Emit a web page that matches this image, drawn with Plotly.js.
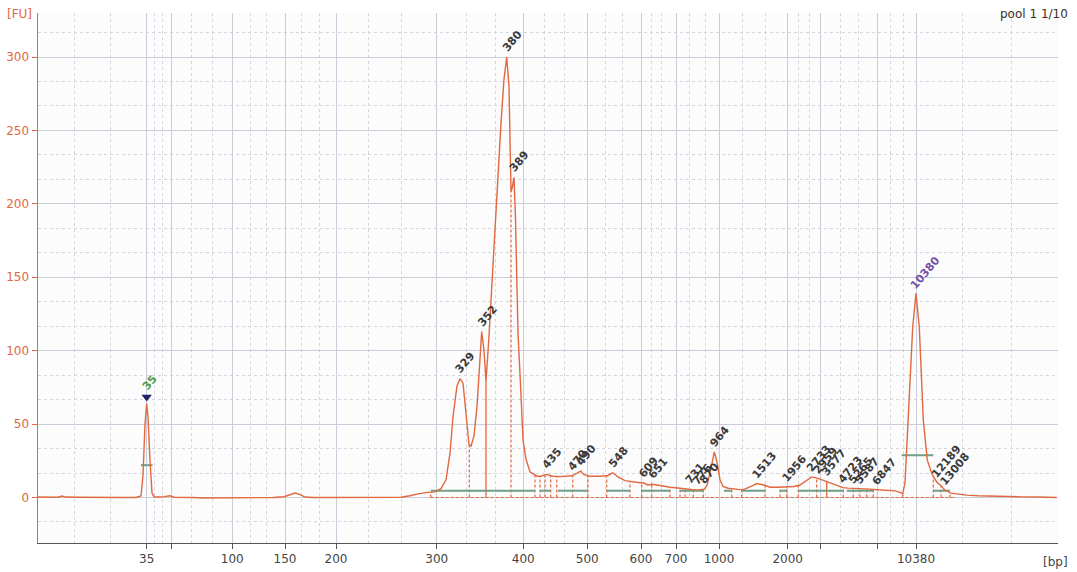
<!DOCTYPE html>
<html>
<head>
<meta charset="utf-8">
<script src="https://cdn.plot.ly/plotly-3.0.1.min.js"></script>
<style>html,body{margin:0;padding:0;background:#fff;}#chart{width:1077px;height:572px;}</style>
</head>
<body>
<div id="chart"></div>
<script>
// ---- Data (x = migration time, arbitrary units; y = fluorescence [FU]) ----
const migrationTime = [0, 1.0, 2.0, 2.4, 2.7, 4.0, 5.5, 7.0, 8.5, 9.8, 10.3, 10.5, 10.7, 10.87, 11.0, 11.2, 11.4, 11.6, 12.0, 12.6, 13.2, 13.6, 14.5, 15.5, 16.5, 18.0, 20.0, 22.0, 23.5, 24.6, 25.2, 25.7, 26.2, 26.7, 27.5, 29.0, 31.0, 33.0, 35.0, 36.3, 37.2, 38.0, 39.0, 39.7, 40.3, 40.8, 41.2, 41.5, 41.9, 42.2, 42.5, 42.8, 43.1, 43.3, 43.6, 43.9, 44.2, 44.37, 44.6, 44.8, 45.1, 45.5, 45.9, 46.3, 46.6, 46.87, 47.1, 47.3, 47.45, 47.6, 47.75, 47.9, 48.0, 48.3, 48.5, 48.8, 49.2, 49.9, 50.3, 50.87, 51.5, 52.2, 53.0, 53.4, 54.0, 54.27, 54.6, 55.2, 56.2, 57.0, 57.47, 58.0, 58.7, 59.5, 60.2, 60.5, 61.0, 61.47, 62.2, 63.2, 64.2, 65.2, 65.9, 66.6, 66.9, 67.3, 67.63, 67.9, 68.2, 68.5, 69.0, 70.0, 70.5, 71.3, 71.87, 72.6, 73.2, 74.0, 74.9, 75.6, 76.2, 76.8, 77.37, 78.0, 78.4, 78.87, 79.4, 80.0, 80.5, 81.0, 81.7, 82.5, 83.2, 83.9, 84.5, 85.2, 85.7, 86.2, 86.47, 86.7, 87.03, 87.47, 87.8, 88.13, 88.53, 88.93, 89.37, 89.87, 90.3, 90.7, 91.3, 92.0, 92.87, 94.0, 95.5, 97.0, 98.5, 100.0, 101.87];
const fluorescence = [0.3, 0.1, 0.2, 1.0, 0.3, 0.2, 0.0, 0.1, 0.0, 0.0, 1.0, 15, 50, 64, 55, 25, 3, 0.5, 0.3, 0.6, 1.2, 0.2, 0.3, 0.0, -0.3, -0.2, -0.5, -0.3, 0.0, 0.5, 1.8, 3.0, 2.0, 0.3, 0.0, 0.0, 0.1, 0.0, 0.1, 0.2, 1.2, 2.5, 3.5, 3.8, 6, 12, 30, 55, 76, 81, 78, 55, 36, 35, 42, 62, 100, 113, 100, 79, 110, 160, 210, 255, 285, 300, 280, 208, 212, 218, 190, 140, 112, 70, 39, 26, 17.5, 14.5, 14.5, 15.7, 14.5, 14.2, 14.5, 14.8, 17, 18, 15.5, 14.5, 14.5, 15, 16.8, 14, 11.5, 10.5, 10, 10, 8.5, 9, 8, 7, 6.3, 5.5, 5, 5.6, 8, 20, 31, 24, 12, 7.5, 6.3, 5.5, 5.2, 7.5, 9.5, 8.5, 7, 7, 7.4, 7.5, 8.5, 11.5, 14, 13, 12, 11.3, 10, 8, 6.7, 6.4, 6.3, 5.8, 5.7, 5.3, 5.0, 4.8, 4.5, 3.5, 2.7, 10, 52.7, 116, 139, 116, 52.7, 25.4, 16.3, 10.6, 8, 5, 3, 2.2, 1.6, 1.2, 0.8, 0.6, 0.4, 0.3, 0.0];

// Axis ticks: position (migration time) and size label in bp
const tickPositions = [10.87, 13.37, 19.43, 24.7, 29.8, 39.87, 48.53, 54.93, 60.3, 63.8, 68.1, 74.97, 78.2, 83.93, 87.8];
const tickLabels = ['35', '', '100', '150', '200', '300', '400', '500', '600', '700', '1000', '2000', '', '', '10380'];
const minorGridPositions = [3.6, 7.2, 11.6, 12.43, 15.37, 17.43, 21.2, 22.87, 26.37, 28.13, 33.03, 36.37, 42.8, 45.7, 50.6, 52.6, 56.7, 58.43, 61.37, 62.37, 65.13, 66.7, 70.47, 72.7, 76.03, 77.13, 80.2, 82.03, 85.2, 86.53, 92.47, 97.3];

// Called peaks: size label, migration time, height
const peakLabels = ['35', '329', '352', '380', '389', '435', '470', '490', '548', '609', '651', '731', '776', '870', '964', '1513', '1956', '2733', '2959', '3577', '4723', '5265', '5587', '6847', '10380', '12189', '13008'];
const peakTimes = [10.87, 42.2, 44.37, 46.87, 47.6, 50.87, 53.4, 54.27, 57.47, 60.5, 61.47, 65.2, 65.9, 66.6, 67.63, 71.87, 74.9, 77.37, 78.0, 78.87, 80.5, 81.5, 82.2, 83.9, 87.8, 89.87, 90.7];
const peakHeights = [64, 81, 113, 300, 218, 15.7, 14.8, 18, 16.8, 10, 9, 5.5, 5, 5.6, 31, 9.5, 7.4, 14, 13, 11.3, 6.7, 6.3, 5.8, 5.3, 139, 10.6, 5];
const ladderLabels = ['35', '10380'];

// Region boundaries (migration time) and solid (peak-split) boundaries
const regionBounds = [39.27, 43.13, 47.3, 49.7, 50.2, 50.7, 51.27, 51.87, 53.47, 55.0, 56.87, 59.2, 60.37, 61.37, 63.2, 64.2, 64.7, 65.53, 66.53, 69.37, 70.37, 72.7, 74.2, 74.87, 76.03, 77.87, 80.53, 81.53, 82.2, 82.87, 83.53, 86.47, 89.53, 90.3, 91.2];
const splitBounds = [44.8, 78.87];
const baselineSpan = [39.27, 91.8];
// Smear region bars: start, end, level (FU)
const smearStart = [39.27, 50.2, 52.0, 56.87, 60.37, 64.2, 68.6, 70.37, 74.2, 76.03, 80.87, 89.53];
const smearEnd =   [49.7, 51.27, 55.0, 59.2, 63.2, 66.53, 69.37, 72.7, 74.87, 80.53, 83.53, 91.2];
const smearLevel = 4.6;
// Peak width bars for ladder peaks
const ladderBarStart = [10.3, 86.37];
const ladderBarEnd = [11.45, 89.53];
const ladderBarLevel = [22, 28.8];

// ---- Helpers ----
function curveAt(t) {
  for (let i = 1; i < migrationTime.length; i++) {
    if (t <= migrationTime[i]) {
      const t0 = migrationTime[i-1], t1 = migrationTime[i];
      const f = (t - t0) / (t1 - t0);
      return fluorescence[i-1] + f * (fluorescence[i] - fluorescence[i-1]);
    }
  }
  return fluorescence[fluorescence.length-1];
}
function vLines(ts) {
  const x = [], y = [];
  ts.forEach(t => { x.push(t, t, null); y.push(0, curveAt(t), null); });
  return {x, y};
}
function segs(a, b, lv) {
  const x = [], y = [];
  a.forEach((s, i) => { const l = Array.isArray(lv) ? lv[i] : lv; x.push(s, b[i], null); y.push(l, l, null); });
  return {x, y};
}

const RED = '#e2683f';
const GREEN = '#6f9f86';
const rb = vLines(regionBounds);
const sb = vLines(splitBounds);
const sm = segs(smearStart, smearEnd, smearLevel);
const lb = segs(ladderBarStart, ladderBarEnd, ladderBarLevel);

const traces = [
  {x: baselineSpan, y: [0, 0], mode: 'lines', line: {color: RED, width: 1.2, dash: '3px,2px'}, hoverinfo: 'skip'},
  {x: rb.x, y: rb.y, mode: 'lines', line: {color: RED, width: 1.2, dash: '3px,2px'}, hoverinfo: 'skip'},
  {x: sb.x, y: sb.y, mode: 'lines', line: {color: RED, width: 1.3}, hoverinfo: 'skip'},
  {x: sm.x, y: sm.y, mode: 'lines', line: {color: GREEN, width: 2}, hoverinfo: 'skip'},
  {x: lb.x, y: lb.y, mode: 'lines', line: {color: GREEN, width: 2}, hoverinfo: 'skip'},
  {x: migrationTime, y: fluorescence, mode: 'lines', line: {color: RED, width: 1.4}, hoverinfo: 'skip'},
  {x: [peakTimes[0]], y: [peakHeights[0] + 4.5], mode: 'markers', marker: {symbol: 'triangle-down', size: 9, color: '#222266'}, hoverinfo: 'skip'}
];

const annotations = peakLabels.map((lab, i) => {
  const w = lab.length * 6.6;
  let dx = w/2 * 0.643 - 1, dy = w/2 * 0.766 + 8;
  let color = '#3a3a3a';
  if (lab === '35') { color = '#4f9a4f'; dy += 8; }
  if (lab === '10380') { color = '#7650a6'; }
  return {
    x: peakTimes[i], y: peakHeights[i], xref: 'x', yref: 'y', text: lab, showarrow: false,
    textangle: -50, xanchor: 'center', yanchor: 'middle', xshift: dx, yshift: dy,
    font: {family: 'DejaVu Sans', size: 11, color: color, weight: 'bold'}
  };
});
annotations.push(
  {xref: 'paper', yref: 'paper', x: -0.0324, y: 1.0151, xanchor: 'left', yanchor: 'top', text: '[FU]', showarrow: false, font: {family: 'DejaVu Sans', size: 12, color: RED}},
  {xref: 'paper', yref: 'paper', x: 1.0118, y: -0.0358, xanchor: 'right', yanchor: 'middle', text: '[bp]', showarrow: false, font: {family: 'DejaVu Sans', size: 12, color: '#444'}},
  {xref: 'paper', yref: 'paper', x: 1.0118, y: 0.998, xanchor: 'right', yanchor: 'middle', text: 'pool 1 1/10', showarrow: false, font: {family: 'DejaVu Sans', size: 12, color: '#3d2f28'}}
);

const layout = {
  width: 1077, height: 572,
  margin: {l: 38, r: 19, t: 13, b: 29},
  paper_bgcolor: '#ffffff', plot_bgcolor: '#fcfcfd',
  showlegend: false,
  font: {family: 'DejaVu Sans', size: 12, color: '#444'},
  xaxis: {
    range: [0, 102], tickmode: 'array', tickvals: tickPositions, ticktext: tickLabels,
    showgrid: true, gridcolor: '#c9cdd9', gridwidth: 1, zeroline: false,
    showline: true, linecolor: '#555', linewidth: 1,
    ticks: 'outside', ticklen: 5, tickcolor: '#555',
    tickfont: {family: 'DejaVu Sans', size: 12, color: '#444'},
    minor: {tickmode: 'array', tickvals: minorGridPositions, showgrid: true, gridcolor: '#d4d6dc', griddash: 'dot', gridwidth: 1, ticks: ''}
  },
  yaxis: {
    range: [-31, 330], tickmode: 'linear', tick0: 0, dtick: 50,
    showgrid: true, gridcolor: '#c9cdd9', gridwidth: 1, zeroline: false,
    showline: true, linecolor: RED, linewidth: 1.5,
    ticks: 'outside', ticklen: 5, tickcolor: RED,
    tickfont: {family: 'DejaVu Sans', size: 12, color: RED},
    minor: {tick0: 0, dtick: 50/3, showgrid: true, gridcolor: '#d4d6dc', griddash: 'dot', gridwidth: 1, ticks: ''}
  },
  annotations: annotations
};

Plotly.newPlot('chart', traces, layout, {staticPlot: true, displayModeBar: false});
</script>
</body>
</html>
